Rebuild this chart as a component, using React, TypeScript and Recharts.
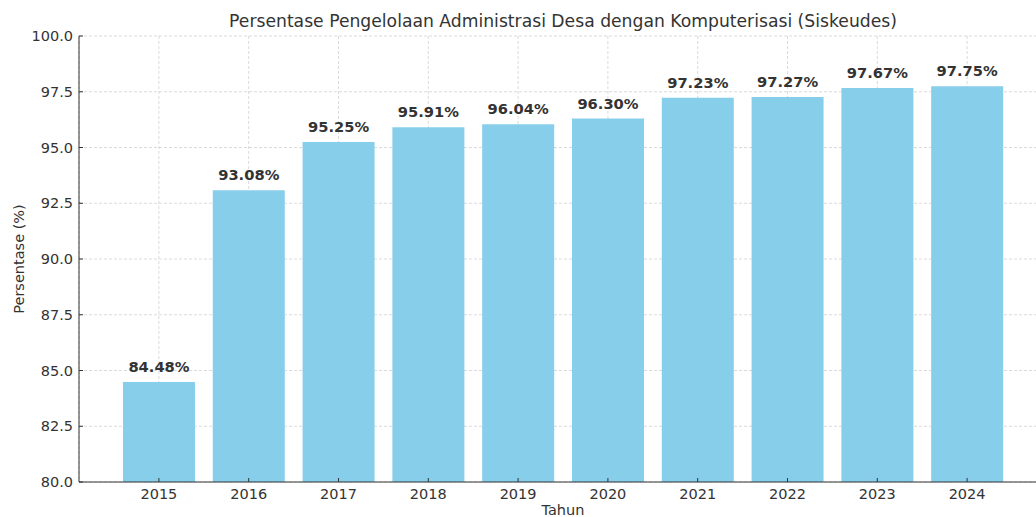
import React from 'react';
import { BarChart, Bar, XAxis, YAxis, CartesianGrid, LabelList } from 'recharts';

const years = ['2015', '2016', '2017', '2018', '2019', '2020', '2021', '2022', '2023', '2024'];
const percentages = [84.48, 93.08, 95.25, 95.91, 96.04, 96.3, 97.23, 97.27, 97.67, 97.75];
const yTicks = [80, 82.5, 85, 87.5, 90, 92.5, 95, 97.5, 100];

const data = years.map((y, i) => ({ year: y, value: percentages[i] }));

const FONT = '"DejaVu Sans", sans-serif';

export default function App() {
  return (
    <div style={{ position: 'absolute', left: 0, top: 0, width: 1036, height: 517, overflow: 'hidden', background: '#fff' }}>
      <BarChart
        width={1060}
        height={517}
        data={data}
        margin={{ top: 36, right: 13, bottom: 0, left: 0 }}
        barCategoryGap="10%"
      >
        <XAxis
          dataKey="year"
          padding={{ left: 35, right: 35 }}
          tick={{ fill: '#333', fontSize: 14.5, fontFamily: FONT }}
          tickSize={-4}
          tickMargin={11}
          axisLine={{ stroke: '#333', strokeWidth: 1 }}
          tickLine={{ stroke: '#333' }}
          height={35}
          label={{ value: 'Tahun', position: 'insideBottom', offset: 2, fill: '#333', fontSize: 14.5, fontFamily: FONT }}
        />
        <YAxis
          type="number"
          domain={[80, 100]}
          ticks={yTicks}
          allowDataOverflow
          width={79}
          tickFormatter={(v: number) => v.toFixed(1)}
          tick={{ fill: '#333', fontSize: 14.5, fontFamily: FONT }}
          tickSize={-4}
          tickMargin={10}
          axisLine={{ stroke: '#333', strokeWidth: 1 }}
          tickLine={{ stroke: '#333' }}
          label={{ value: 'Persentase (%)', angle: -90, position: 'insideLeft', offset: 19, fill: '#333', fontSize: 14.5, fontFamily: FONT, style: { textAnchor: 'middle' } }}
        />
        <Bar dataKey="value" fill="#87CEEB" isAnimationActive={false}>
          <LabelList
            dataKey="value"
            position="top"
            offset={10}
            formatter={(v: number) => `${v.toFixed(2)}%`}
            style={{ fill: '#333', fontSize: 14.7, fontWeight: 'bold', fontFamily: FONT }}
          />
        </Bar>
        <CartesianGrid stroke="#b0b0b0" strokeOpacity={0.6} strokeDasharray="3 2" strokeWidth={0.8} />
        <text x={563} y={27} textAnchor="middle" fill="#333" fontSize={17.2} fontFamily={FONT}>
          Persentase Pengelolaan Administrasi Desa dengan Komputerisasi (Siskeudes)
        </text>
      </BarChart>
    </div>
  );
}
